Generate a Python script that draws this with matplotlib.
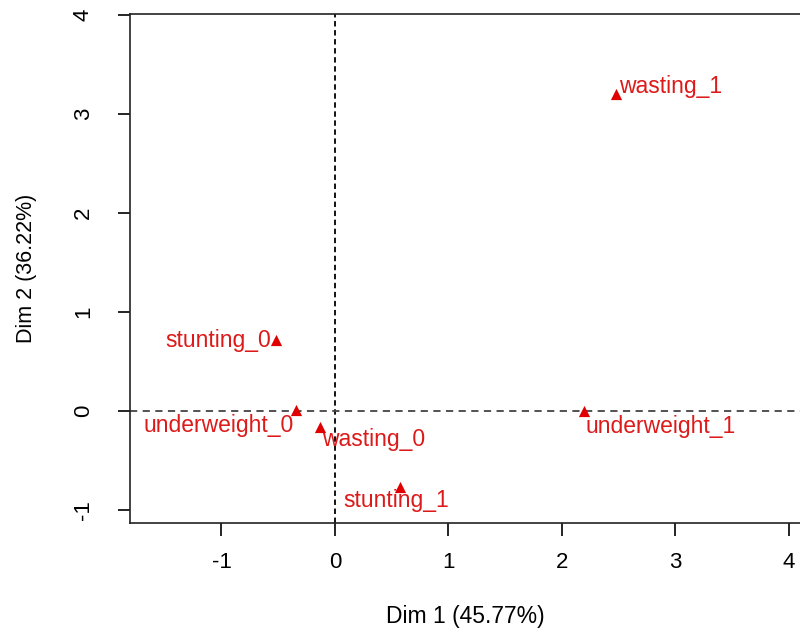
import matplotlib
matplotlib.use('Agg')
import matplotlib.pyplot as plt

# 数据：CA 图上的类别坐标
labels = ['wasting_1', 'stunting_0', 'underweight_0', 'wasting_0', 'stunting_1', 'underweight_1']
dim1 = [2.48, -0.52, -0.34, -0.13, 0.57, 2.19]
dim2 = [3.20, 0.72, 0.01, -0.16, -0.77, 0.00]

xticks = [-1, 0, 1, 2, 3, 4]
yticks = [-1, 0, 1, 2, 3, 4]

# 标签相对点的偏移 (像素) 与对齐方式
offsets = [(3, 8, 'left'), (-5, -1, 'right'), (-3, -15, 'right'),
           (2, -13, 'left'), (-3, -13, 'center'), (2, -15, 'left')]

plt.rcParams['font.family'] = ['Liberation Sans', 'DejaVu Sans']

fig = plt.figure(figsize=(8, 6.28), dpi=100)
ax = fig.add_axes([130 / 800, 105 / 628, 675 / 800, 509 / 628])

red = '#dd1a1a'
ax.axvline(0, color='black', linestyle=(0, (3, 2)), linewidth=1.3, zorder=1)
ax.axhline(0, color='#444444', linestyle=(0, (4, 3)), linewidth=1.3, zorder=1)

ax.scatter(dim1, dim2, marker='^', s=65, color='#e00000', zorder=3, linewidths=0)
for lab, x, y, (dx, dy, ha) in zip(labels, dim1, dim2, offsets):
    ax.annotate(lab, (x, y), xytext=(dx, dy), textcoords='offset pixels',
                ha=ha, va='center', color=red, fontsize=16.5)

ax.set_xlim(-1.806, -1.806 + 675 / 113.5)
ax.set_ylim(-1.131, -1.131 + 509 / 99)
ax.set_xticks(xticks)
ax.set_yticks(yticks)
ax.set_xticklabels([str(t) for t in xticks], fontsize=16)
ax.set_yticklabels([str(t) for t in yticks], fontsize=16, rotation=90, va='center')
ax.tick_params(axis='x', length=9, width=1.2, pad=12, direction='out')
ax.tick_params(axis='y', length=9, width=1.2, pad=17, direction='out')

ax.spines['right'].set_visible(False)
for s in ['top', 'left', 'bottom']:
    ax.spines[s].set_linewidth(1.2)
    ax.spines[s].set_color('#222222')

ax.set_xlabel('Dim 1 (45.77%)', fontsize=16.5)
ax.set_ylabel('Dim 2 (36.22%)', fontsize=15.5)
ax.xaxis.label.set_va('center')
ax.yaxis.label.set_va('center')
ax.xaxis.set_label_coords((465 - 130) / 675, (523 - 616) / 509)
ax.yaxis.set_label_coords((27 - 130) / 675, 0.5)

fig.savefig('out.png', dpi=100)
